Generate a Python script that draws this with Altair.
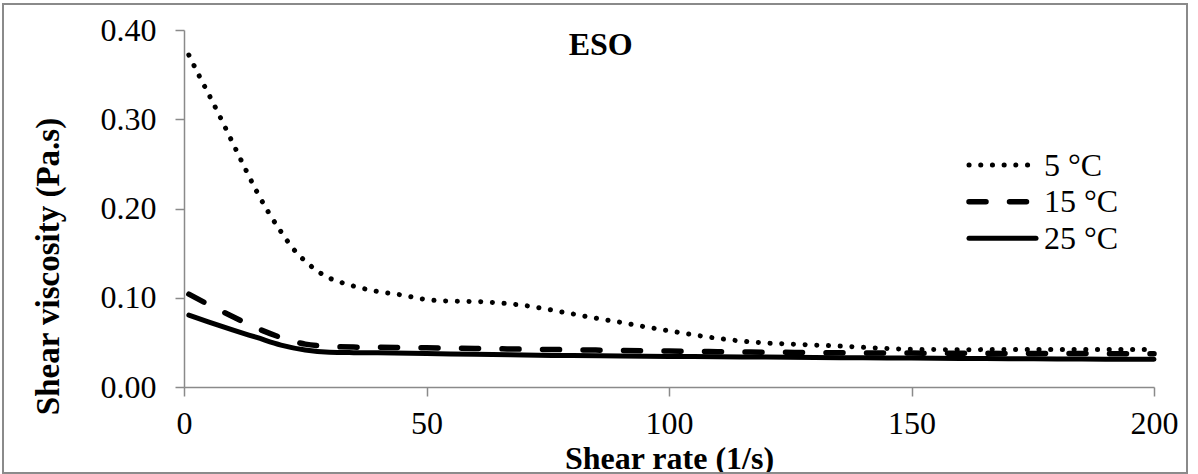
import altair as alt
import pandas as pd

# Shear rate (1/s) and shear viscosity (Pa.s)
x_5 = [1, 3, 5, 7.5, 10, 12.5, 15, 17.5, 20, 22.5, 25, 27.5, 30, 32.5, 35, 40, 45, 50,
       55, 60, 65, 70, 75, 80, 85, 90, 95, 100, 105, 110, 115, 120, 125, 130, 135, 140,
       145, 150, 160, 170, 180, 190, 200]
v_5 = [0.372, 0.350, 0.329, 0.302, 0.274, 0.246, 0.219, 0.195, 0.174, 0.155, 0.141, 0.130,
       0.122, 0.117, 0.113, 0.107, 0.103, 0.098, 0.0962, 0.0958, 0.0942, 0.0915, 0.087,
       0.082, 0.077, 0.0725, 0.0675, 0.063, 0.0585, 0.0545, 0.0515, 0.0494, 0.0481, 0.047,
       0.0459, 0.0445, 0.0432, 0.0423, 0.0418, 0.042, 0.042, 0.042, 0.042]

x_15 = [1, 5, 10, 15, 20, 25, 30, 35, 40, 50, 60, 70, 80, 90, 100, 110, 120, 130, 140,
        150, 160, 170, 180, 190, 200]
v_15 = [0.104, 0.0925, 0.079, 0.066, 0.0555, 0.048, 0.0455, 0.0447, 0.0445, 0.044, 0.0432,
        0.0424, 0.0417, 0.041, 0.0403, 0.0396, 0.039, 0.0386, 0.0382, 0.038, 0.0378, 0.0376,
        0.0375, 0.0374, 0.0373]

x_25 = [1, 5, 10, 15, 20, 25, 30, 35, 40, 50, 60, 70, 80, 90, 100, 110, 120, 130, 140,
        150, 160, 170, 180, 190, 200]
v_25 = [0.0805, 0.073, 0.064, 0.0555, 0.047, 0.0415, 0.039, 0.0385, 0.0383, 0.0375, 0.0366,
        0.0358, 0.0352, 0.0347, 0.0343, 0.0339, 0.0335, 0.0331, 0.0327, 0.0324, 0.032,
        0.0317, 0.0314, 0.0312, 0.031]

series_names = ["5 °C", "15 °C", "25 °C"]
y_ticks = [0.0, 0.1, 0.2, 0.3, 0.4]
x_ticks = [0, 50, 100, 150, 200]

frames = []
for name, xs, vs in zip(series_names, [x_5, x_15, x_25], [v_5, v_15, v_25]):
    frames.append(pd.DataFrame({"rate": xs, "visc": vs, "series": name}))
df = pd.concat(frames, ignore_index=True)

FONT = "Liberation Serif"
AXIS_GREY = "#8a8a8a"

W, H = 970, 357

x_enc = alt.X("rate:Q",
              scale=alt.Scale(domain=[0, 200], nice=False, zero=False),
              axis=alt.Axis(values=x_ticks, title="Shear rate (1/s)", grid=False,
                            tickSize=9, labelPadding=37, labelBaseline="alphabetic",
                            titleY=81, titleBaseline="alphabetic"))
y_enc = alt.Y("visc:Q",
              scale=alt.Scale(domain=[0, 0.4], nice=False),
              axis=alt.Axis(values=y_ticks, format=".2f", title="Shear viscosity (Pa.s)",
                            grid=False, tickSize=9, labelPadding=19, titleFontSize=33,
                            titleAngle=270, titleAlign="center", titleBaseline="middle",
                            titleX=-136, titleY=236))

base = alt.Chart(df)

styles = {
    "5 °C": dict(strokeWidth=5, strokeDash=[0.1, 11.6], strokeCap="round"),
    "15 °C": dict(strokeWidth=5.5, strokeDash=[17, 23.5], strokeCap="round"),
    "25 °C": dict(strokeWidth=5, strokeCap="round"),
}

layers = []
for name in series_names:
    layers.append(
        base.transform_filter(alt.datum.series == name)
        .mark_line(color="black", interpolate="monotone", **styles[name])
        .encode(x=x_enc, y=y_enc)
    )

# outer frame
frame = base.mark_rect(fillOpacity=0, stroke=AXIS_GREY, strokeWidth=1.3).encode(
    x=alt.value(-180.7), x2=alt.value(1002.7), y=alt.value(-26), y2=alt.value(442.7)
)

# panel label
label_df = pd.DataFrame({"t": ["ESO"]})
eso = alt.Chart(label_df).mark_text(font=FONT, fontSize=32, fontWeight="bold",
                                    align="center", baseline="alphabetic",
                                    color="black").encode(
    text="t:N", x=alt.value(416.7), y=alt.value(25))

# legend
leg_rows = [135, 171.7, 208.3]
leg_layers = []
for name, ry in zip(series_names, leg_rows):
    st = styles[name]
    ldf = pd.DataFrame({"series": [name]})
    leg_layers.append(
        alt.Chart(ldf).mark_rule(color="black", **st).encode(
            x=alt.value(785), x2=alt.value(852), y=alt.value(ry))
    )
    leg_layers.append(
        alt.Chart(ldf).mark_text(font=FONT, fontSize=32, align="left",
                                 baseline="alphabetic", color="black").encode(
            text="series:N", x=alt.value(860), y=alt.value(ry + 10.5))
    )

chart = alt.layer(frame, *layers, eso, *leg_layers).properties(
    width=W, height=H,
    autosize=alt.AutoSizeParams(type="none"),
    padding={"left": 184, "top": 30, "right": 44, "bottom": 87},
    background="white",
).configure_view(stroke=None).configure_axis(
    domainColor=AXIS_GREY, tickColor=AXIS_GREY, domainWidth=1.5, tickWidth=1.5,
    labelFont=FONT, labelFontSize=32, labelColor="black",
    titleFont=FONT, titleFontSize=32, titleFontWeight="bold", titleColor="black",
    labelFlush=False, labelOverlap=False,
)

chart.save("out.html", embed_options={"renderer": "svg", "actions": False})
